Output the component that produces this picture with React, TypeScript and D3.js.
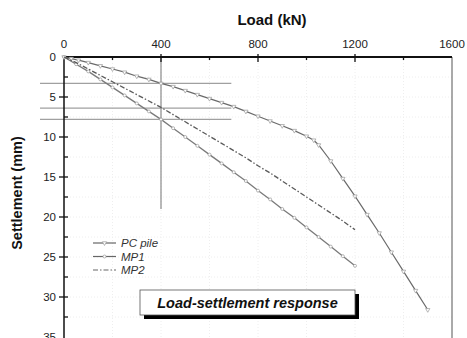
import React, { useEffect, useRef } from 'react';
import * as d3 from 'd3';

// Load (kN) vs settlement (mm)
const pcLoad = [0, 30, 60, 100, 150, 200, 250, 300, 350, 400, 450, 500, 550, 600, 650, 700, 750, 800, 850, 900, 950, 1000, 1030, 1050, 1100, 1150, 1200, 1250, 1300, 1350, 1400, 1450, 1500];
const pcSettle = [0, 0.2, 0.4, 0.7, 1.1, 1.5, 1.9, 2.4, 2.8, 3.3, 3.7, 4.2, 4.7, 5.2, 5.7, 6.2, 6.8, 7.4, 8.0, 8.6, 9.2, 9.9, 10.4, 11.0, 13.0, 15.2, 17.4, 19.7, 22.0, 24.4, 26.8, 29.2, 31.6];

const mp1Load = [0, 50, 100, 150, 200, 250, 300, 350, 400, 450, 500, 550, 600, 650, 700, 750, 800, 850, 900, 950, 1000, 1050, 1100, 1150, 1200];
const mp1Settle = [0, 0.9, 1.8, 2.8, 3.8, 4.8, 5.8, 6.8, 7.8, 8.9, 10.0, 11.1, 12.2, 13.3, 14.4, 15.5, 16.7, 17.8, 19.0, 20.1, 21.3, 22.5, 23.7, 24.9, 26.1];

const mp2Load = [0, 50, 100, 150, 200, 250, 300, 350, 400, 450, 500, 550, 600, 650, 700, 750, 800, 850, 900, 950, 1000, 1050, 1100, 1150, 1200];
const mp2Settle = [0, 0.7, 1.5, 2.3, 3.1, 3.9, 4.7, 5.5, 6.3, 7.2, 8.1, 9.0, 9.9, 10.8, 11.7, 12.6, 13.6, 14.5, 15.5, 16.5, 17.5, 18.5, 19.5, 20.5, 21.6];

const xTicks = [0, 400, 800, 1200, 1600];
const yTicks = [0, 5, 10, 15, 20, 25, 30, 35];
const refSettle = [3.3, 6.4, 7.8];
const legendNames = ['PC pile', 'MP1', 'MP2'];

const App = () => {
  const svgRef = useRef<SVGSVGElement>(null);

  useEffect(() => {
    if (!svgRef.current) return;
    const svg = d3.select(svgRef.current);
    svg.selectAll('*').remove();

    const left = 64, right = 452, top = 57;
    const x = d3.scaleLinear().domain([0, 1600]).range([left, right]);
    const y = d3.scaleLinear().domain([0, 35]).range([top, 337]);
    const font = 'Liberation Sans, Arial, sans-serif';

    // faint grid
    const g = svg.append('g');
    d3.range(200, 1600, 200).forEach(v => {
      g.append('line').attr('x1', x(v)).attr('x2', x(v)).attr('y1', top).attr('y2', 338)
        .attr('stroke', '#eeeeee').attr('stroke-dasharray', '1,2');
    });
    d3.range(2.5, 35, 2.5).forEach(v => {
      g.append('line').attr('x1', left).attr('x2', right).attr('y1', y(v)).attr('y2', y(v))
        .attr('stroke', '#eeeeee').attr('stroke-dasharray', '1,2');
    });

    // reference lines
    refSettle.forEach(s => {
      g.append('line').attr('x1', 40).attr('x2', x(690)).attr('y1', y(s)).attr('y2', y(s))
        .attr('stroke', '#a0a0a0').attr('stroke-width', 1.3);
    });
    g.append('line').attr('x1', x(400)).attr('x2', x(400)).attr('y1', y(0)).attr('y2', y(19))
      .attr('stroke', '#8a8a8a').attr('stroke-width', 1.2);

    // frame
    g.append('line').attr('x1', right).attr('x2', right).attr('y1', top).attr('y2', 338)
      .attr('stroke', '#555').attr('stroke-width', 1);
    g.append('line').attr('x1', left).attr('x2', left).attr('y1', top).attr('y2', 338)
      .attr('stroke', '#111').attr('stroke-width', 1.5);
    g.append('line').attr('x1', left).attr('x2', right).attr('y1', top).attr('y2', top)
      .attr('stroke', '#111').attr('stroke-width', 2);

    // ticks
    d3.range(200, 1600, 200).forEach(v => {
      const major = v % 400 === 0;
      g.append('line').attr('x1', x(v)).attr('x2', x(v)).attr('y1', top - (major ? 3 : 0)).attr('y2', top + (major ? 5 : 3))
        .attr('stroke', '#111').attr('stroke-width', 1.3);
    });
    d3.range(2.5, 35, 2.5).forEach(v => {
      const major = v % 5 === 0;
      g.append('line').attr('x1', major ? left - 5 : left).attr('x2', left + 4).attr('y1', y(v)).attr('y2', y(v))
        .attr('stroke', '#111').attr('stroke-width', 1.3);
    });

    xTicks.forEach(v => {
      g.append('text').attr('x', x(v)).attr('y', 48).attr('text-anchor', 'middle')
        .attr('font-family', font).attr('font-size', 11.5).attr('fill', '#222').text(v);
    });
    yTicks.forEach(v => {
      g.append('text').attr('x', 56).attr('y', y(v) + 4).attr('text-anchor', 'end')
        .attr('font-family', font).attr('font-size', 11.5).attr('fill', '#222').text(v);
    });

    g.append('text').attr('x', 272).attr('y', 25).attr('text-anchor', 'middle')
      .attr('font-family', font).attr('font-size', 15).attr('font-weight', 'bold').attr('fill', '#111')
      .text('Load (kN)');
    g.append('text').attr('transform', 'translate(22,193) rotate(-90)').attr('text-anchor', 'middle')
      .attr('font-family', font).attr('font-size', 14.5).attr('font-weight', 'bold').attr('fill', '#111')
      .text('Settlement (mm)');

    const line = d3.line<[number, number]>().x(d => x(d[0])).y(d => y(d[1]));
    const tri = d3.symbol().type(d3.symbolTriangle).size(8);

    // PC pile
    const pc = pcLoad.map((l, i) => [l, pcSettle[i]] as [number, number]);
    g.append('path').datum(pc).attr('d', line).attr('fill', 'none').attr('stroke', '#6a6a6a').attr('stroke-width', 1.2);
    g.selectAll('.pcm').data(pc).enter().append('path').attr('class', 'pcm')
      .attr('d', tri).attr('transform', d => `translate(${x(d[0])},${y(d[1])}) rotate(180)`)
      .attr('fill', '#fff').attr('stroke', '#999').attr('stroke-width', 0.7);

    // MP1
    const mp1 = mp1Load.map((l, i) => [l, mp1Settle[i]] as [number, number]);
    g.append('path').datum(mp1).attr('d', line).attr('fill', 'none').attr('stroke', '#7a7a7a').attr('stroke-width', 1.3);
    g.selectAll('.m1').data(mp1).enter().append('circle').attr('class', 'm1')
      .attr('cx', d => x(d[0])).attr('cy', d => y(d[1])).attr('r', 1.5)
      .attr('fill', '#fff').attr('stroke', '#999').attr('stroke-width', 0.7);

    // MP2
    const mp2 = mp2Load.map((l, i) => [l, mp2Settle[i]] as [number, number]);
    g.append('path').datum(mp2).attr('d', line).attr('fill', 'none').attr('stroke', '#5a5a5a')
      .attr('stroke-width', 1.3).attr('stroke-dasharray', '5,2,1.5,2');

    // legend
    legendNames.forEach((n, i) => {
      const ly = 243 + i * 13.5;
      g.append('line').attr('x1', 93).attr('x2', 116).attr('y1', ly).attr('y2', ly)
        .attr('stroke', '#666').attr('stroke-width', 1.2)
        .attr('stroke-dasharray', i === 2 ? '5,2,1.5,2' : null);
      if (i === 0) {
        g.append('path').attr('d', tri).attr('transform', `translate(104.5,${ly}) rotate(180)`)
          .attr('fill', '#fff').attr('stroke', '#999').attr('stroke-width', 0.7);
      } else if (i === 1) {
        g.append('circle').attr('cx', 104.5).attr('cy', ly).attr('r', 1.5)
          .attr('fill', '#fff').attr('stroke', '#999').attr('stroke-width', 0.7);
      }
      g.append('text').attr('x', 121).attr('y', ly + 4).attr('font-family', font).attr('font-size', 11.5)
        .attr('font-style', 'italic').attr('fill', '#333').text(n);
    });

    // annotation box
    g.append('rect').attr('x', 144).attr('y', 294).attr('width', 215).attr('height', 25).attr('fill', '#000');
    g.append('rect').attr('x', 140).attr('y', 290).attr('width', 215).attr('height', 25)
      .attr('fill', '#fff').attr('stroke', '#555').attr('stroke-width', 0.8);
    g.append('text').attr('x', 247.5).attr('y', 307.5).attr('text-anchor', 'middle')
      .attr('font-family', font).attr('font-size', 14.5).attr('font-weight', 'bold').attr('font-style', 'italic')
      .attr('fill', '#111').text('Load-settlement response');
  }, []);

  return (
    <svg ref={svgRef} width={467} height={338}
      style={{ position: 'absolute', left: 0, top: 0, background: '#fff', display: 'block' }} />
  );
};

export default App;
